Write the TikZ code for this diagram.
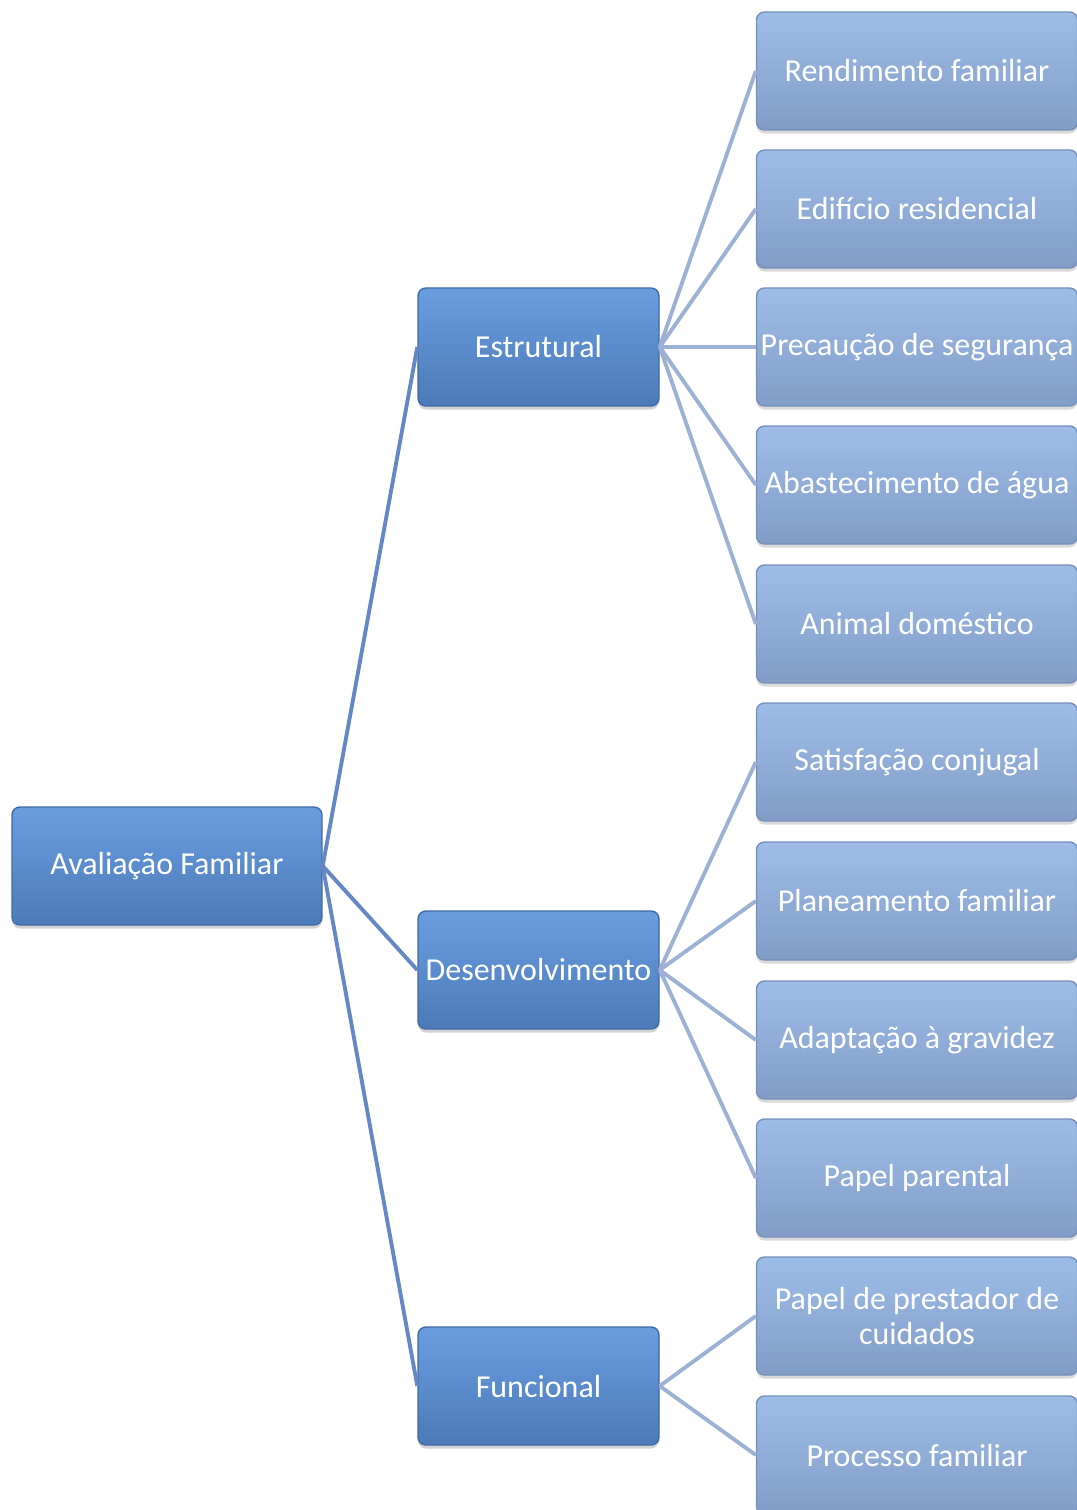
\documentclass[tikz,border=0pt]{standalone}
\usepackage{fontspec}
\setmainfont{Carlito}
\usetikzlibrary{shadows}
\definecolor{topA}{HTML}{6A9DE0}
\definecolor{botA}{HTML}{4C7AB8}
\definecolor{edgeA}{HTML}{3F6AA6}
\definecolor{topB}{HTML}{9DBDE8}
\definecolor{botB}{HTML}{819DC6}
\definecolor{edgeB}{HTML}{7590BA}
\definecolor{lineA}{HTML}{6487C6}
\definecolor{lineB}{HTML}{9DB1D5}
\tikzset{
  x=0.02cm, y=-0.02cm,
  boxA/.style={draw=edgeA, line width=0.8pt, rounded corners=4.5pt, top color=topA, bottom color=botA,
    minimum width=241*0.02cm, minimum height=118*0.02cm, text=white, font=\fontsize{18.2}{20}\selectfont,
    align=center, inner sep=1pt, drop shadow={shadow xshift=0pt, shadow yshift=-2pt, opacity=0.35}},
  rootbox/.style={boxA, minimum width=310*0.02cm},
  boxB/.style={draw=edgeB, line width=0.8pt, rounded corners=4.5pt, top color=topB, bottom color=botB,
    minimum width=321*0.02cm, minimum height=118*0.02cm, text=white, font=\fontsize{18.2}{20}\selectfont,
    align=center, inner sep=1pt, drop shadow={shadow xshift=0pt, shadow yshift=-2pt, opacity=0.3}},
  linkA/.style={draw=lineA, line width=2.2pt},
  linkB/.style={draw=lineB, line width=2.2pt},
}
\begin{document}
\begin{tikzpicture}
\useasboundingbox (0,0) rectangle (1077,1510);
% level 3
\node[boxB] (c1) at (917,71) {Rendimento familiar};
\node[boxB] (c2) at (917,209) {Edifício residencial};
\node[boxB] (c3) at (917,347) {Precaução de segurança};
\node[boxB] (c4) at (917,485) {Abastecimento de água};
\node[boxB] (c5) at (917,624) {Animal doméstico};
\node[boxB] (c6) at (917,762) {Satisfação conjugal};
\node[boxB] (c7) at (917,901) {Planeamento familiar};
\node[boxB] (c8) at (917,1040) {Adaptação à gravidez};
\node[boxB] (c9) at (917,1178) {Papel parental};
\node[boxB] (c10) at (917,1316) {Papel de prestador de\\cuidados};
\node[boxB] (c11) at (917,1455) {Processo familiar};
% level 2
\node[boxA] (e) at (538.5,347) {Estrutural};
\node[boxA] (d) at (538.5,970) {Desenvolvimento};
\node[boxA] (f) at (538.5,1386) {Funcional};
% root
\node[rootbox] (r) at (167,866) {Avaliação Familiar};
% links
\foreach \t in {e,d,f} \draw[linkA] (r.east) -- (\t.west);
\foreach \t in {c1,c2,c3,c4,c5} \draw[linkB] (e.east) -- (\t.west);
\foreach \t in {c6,c7,c8,c9} \draw[linkB] (d.east) -- (\t.west);
\foreach \t in {c10,c11} \draw[linkB] (f.east) -- (\t.west);
\end{tikzpicture}
\end{document}
